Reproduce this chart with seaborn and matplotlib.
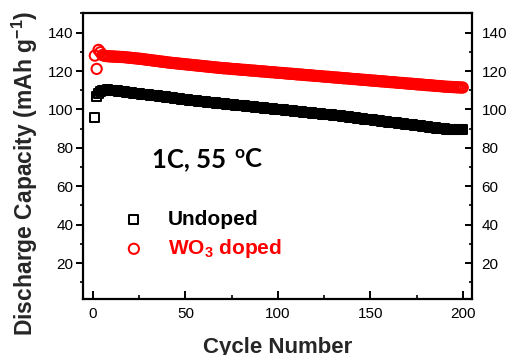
import numpy as np
import pandas as pd
import matplotlib
matplotlib.use("Agg")
import matplotlib.pyplot as plt
import matplotlib.transforms as mtrans
import seaborn as sns
from matplotlib.ticker import MultipleLocator

sns.set_theme(style="white")
plt.rcParams["font.family"] = ["Liberation Sans", "DejaVu Sans"]
plt.rcParams["mathtext.fontset"] = "custom"
plt.rcParams["mathtext.rm"] = "Liberation Sans"
plt.rcParams["mathtext.bf"] = "Liberation Sans:bold"
plt.rcParams["mathtext.it"] = "Liberation Sans:italic"

# ---------------- data ----------------
cycles = list(range(1, 201))

undoped = [
    95.7, 106.6, 108.3, 109.1, 109.6, 109.9, 110.1, 110.2, 110.1, 110.0,
    109.9, 109.8, 109.6, 109.5, 109.4, 109.3, 109.1, 109.0, 108.9, 108.8,
    108.7, 108.5, 108.4, 108.3, 108.2, 108.0, 107.9, 107.8, 107.7, 107.6,
    107.4, 107.3, 107.2, 107.1, 107.0, 106.8, 106.7, 106.6, 106.5, 106.4,
    106.2, 106.1, 106.0, 105.9, 105.8, 105.6, 105.5, 105.4, 105.3, 105.2,
    105.0, 104.9, 104.8, 104.7, 104.6, 104.4, 104.3, 104.2, 104.1, 104.0,
    103.9, 103.8, 103.7, 103.6, 103.5, 103.4, 103.3, 103.2, 103.1, 103.0,
    102.9, 102.8, 102.7, 102.6, 102.5, 102.4, 102.3, 102.2, 102.1, 102.0,
    101.9, 101.8, 101.7, 101.6, 101.5, 101.4, 101.3, 101.2, 101.1, 101.0,
    100.9, 100.8, 100.7, 100.6, 100.5, 100.4, 100.3, 100.2, 100.1, 100.0,
    99.9, 99.8, 99.7, 99.6, 99.5, 99.4, 99.3, 99.2, 99.1, 99.0,
    98.9, 98.8, 98.7, 98.6, 98.5, 98.4, 98.3, 98.2, 98.1, 98.0,
    97.9, 97.8, 97.7, 97.6, 97.5, 97.4, 97.3, 97.2, 97.1, 97.0,
    96.9, 96.8, 96.7, 96.6, 96.4, 96.3, 96.2, 96.1, 96.0, 95.8,
    95.7, 95.6, 95.5, 95.4, 95.2, 95.1, 95.0, 94.9, 94.8, 94.6,
    94.5, 94.4, 94.3, 94.2, 94.0, 93.9, 93.8, 93.7, 93.6, 93.4,
    93.3, 93.2, 93.1, 93.0, 92.8, 92.7, 92.6, 92.5, 92.4, 92.2,
    92.1, 92.0, 91.9, 91.8, 91.6, 91.5, 91.4, 91.3, 91.2, 91.0,
    90.9, 90.8, 90.6, 90.5, 90.4, 90.3, 90.2, 90.1, 90.0, 89.9,
    89.8, 89.8, 89.7, 89.7, 89.6, 89.6, 89.5, 89.5, 89.4, 89.4,
]

wo3_doped = [
    128.0, 121.1, 131.0, 129.8, 128.3, 128.0, 127.8, 127.7, 127.6, 127.6,
    127.5, 127.5, 127.4, 127.4, 127.3, 127.3, 127.2, 127.1, 127.0, 126.9,
    126.8, 126.7, 126.6, 126.5, 126.4, 126.3, 126.2, 126.0, 125.9, 125.8,
    125.7, 125.5, 125.4, 125.3, 125.2, 125.0, 124.9, 124.8, 124.7, 124.5,
    124.4, 124.3, 124.2, 124.1, 124.0, 123.9, 123.8, 123.7, 123.6, 123.5,
    123.4, 123.3, 123.2, 123.1, 123.0, 122.9, 122.8, 122.7, 122.6, 122.5,
    122.4, 122.3, 122.2, 122.1, 122.0, 121.9, 121.8, 121.7, 121.6, 121.5,
    121.4, 121.4, 121.3, 121.2, 121.1, 121.0, 121.0, 120.9, 120.8, 120.7,
    120.6, 120.6, 120.5, 120.4, 120.3, 120.2, 120.2, 120.1, 120.0, 119.9,
    119.8, 119.8, 119.7, 119.6, 119.5, 119.4, 119.4, 119.3, 119.2, 119.1,
    119.0, 119.0, 118.9, 118.8, 118.7, 118.6, 118.6, 118.5, 118.4, 118.3,
    118.2, 118.2, 118.1, 118.0, 117.9, 117.8, 117.8, 117.7, 117.6, 117.5,
    117.4, 117.4, 117.3, 117.2, 117.1, 117.0, 117.0, 116.9, 116.8, 116.7,
    116.6, 116.6, 116.5, 116.4, 116.3, 116.2, 116.2, 116.1, 116.0, 115.9,
    115.8, 115.8, 115.7, 115.6, 115.5, 115.4, 115.4, 115.3, 115.2, 115.1,
    115.0, 115.0, 114.9, 114.8, 114.7, 114.6, 114.6, 114.5, 114.4, 114.3,
    114.2, 114.2, 114.1, 114.0, 113.9, 113.8, 113.8, 113.7, 113.6, 113.5,
    113.4, 113.4, 113.3, 113.2, 113.1, 113.0, 113.0, 112.9, 112.8, 112.7,
    112.6, 112.6, 112.5, 112.4, 112.3, 112.2, 112.2, 112.1, 112.0, 111.9,
    111.8, 111.8, 111.7, 111.7, 111.6, 111.6, 111.5, 111.5, 111.4, 111.4,
]

series_labels = ["Undoped", "WO$_\\mathbf{3}$ doped"]
series_colors = ["black", "#ff0000"]
series_markers = ["s", "o"]

x_ticks = [0, 50, 100, 150, 200]
y_ticks = [20, 40, 60, 80, 100, 120, 140]

# ---------------- figure ----------------
fig = plt.figure(figsize=(5.11, 3.55), dpi=100)
ax = fig.add_axes([0.1624, 0.1577, 0.7613, 0.8057])

df_u = pd.DataFrame({"cycle": cycles, "cap": undoped})
df_w = pd.DataFrame({"cycle": cycles, "cap": wo3_doped})

sns.scatterplot(data=df_u, x="cycle", y="cap", ax=ax, marker=series_markers[0],
                s=42, color=series_colors[0], facecolor="none",
                edgecolor=series_colors[0], linewidth=1.45, label=series_labels[0])
sns.scatterplot(data=df_w, x="cycle", y="cap", ax=ax, marker=series_markers[1],
                s=54, color=series_colors[1], facecolor="none",
                edgecolor=series_colors[1], linewidth=1.45, label=series_labels[1])

ax.set_xlim(-5.4, 205)
ax.set_ylim(1.3, 150.2)
ax.set_xticks(x_ticks)
ax.set_yticks(y_ticks)
ax.xaxis.set_minor_locator(MultipleLocator(25))
ax.yaxis.set_minor_locator(MultipleLocator(10))

for s in ax.spines.values():
    s.set_linewidth(1.6)
    s.set_color("black")

ax.tick_params(axis="x", which="both", direction="in", bottom=True, top=False,
               labelsize=11, pad=6, colors="black")
ax.tick_params(axis="x", which="major", length=6, width=1.4)
ax.tick_params(axis="x", which="minor", length=3, width=1.2)
ax.tick_params(axis="y", which="both", left=True, right=True, labelright=True,
               labelsize=11, pad=2, colors="black")
ax.tick_params(axis="y", which="major", length=5, width=1.4)
ax.tick_params(axis="y", which="minor", length=2.5, width=1.2)
for t in ax.yaxis.get_major_ticks() + ax.yaxis.get_minor_ticks():
    t.tick1line.set_marker(matplotlib.lines.TICKLEFT)
    t.tick2line.set_marker(matplotlib.lines.TICKLEFT)

ax.set_xlabel("Cycle Number", fontsize=16, fontweight="bold", labelpad=11)
ax.set_ylabel("Discharge Capacity (mAh g$^{\\mathbf{-1}}$)", fontsize=16.5,
              fontweight="bold")
ax.yaxis.set_label_coords(-0.11, 0.44)

# "1C, 55 oC" annotation with a raised "o"
tfam = ["Lato", "DejaVu Sans"]
x0, yb = 0.177, 0.4615
t1 = ax.text(x0, yb, "1C, 55 ", transform=ax.transAxes, fontsize=18.5,
             fontweight="bold", family=tfam, ha="left", va="baseline",
             color="black")
fig.canvas.draw()
bb1 = t1.get_window_extent()
w1_pt = (bb1.x1 - bb1.x0) * 72.0 / fig.dpi
t2 = ax.text(x0, yb, "o", fontsize=12.5, fontweight="bold", family=tfam,
             ha="left", va="baseline", color="black",
             transform=mtrans.offset_copy(ax.transAxes, fig=fig,
                                          x=w1_pt + 1.5, y=6.3, units="points"))
fig.canvas.draw()
bb2 = t2.get_window_extent()
w2_pt = (bb2.x1 - bb1.x0) * 72.0 / fig.dpi
t3 = ax.text(x0, yb, "C", fontsize=18.5, fontweight="bold", family=tfam,
             ha="left", va="baseline", color="black",
             transform=mtrans.offset_copy(ax.transAxes, fig=fig,
                                          x=w2_pt + 0.8, y=0, units="points"))

leg = ax.legend(loc="upper left", bbox_to_anchor=(0.104, 0.31), frameon=False,
                handlelength=1.0, handletextpad=1.13,
                borderpad=0, labelspacing=0.38, borderaxespad=0,
                prop={"weight": "bold", "size": 15})
for txt, c in zip(leg.get_texts(), series_colors):
    txt.set_color(c)

fig.savefig("out.png", dpi=100)
